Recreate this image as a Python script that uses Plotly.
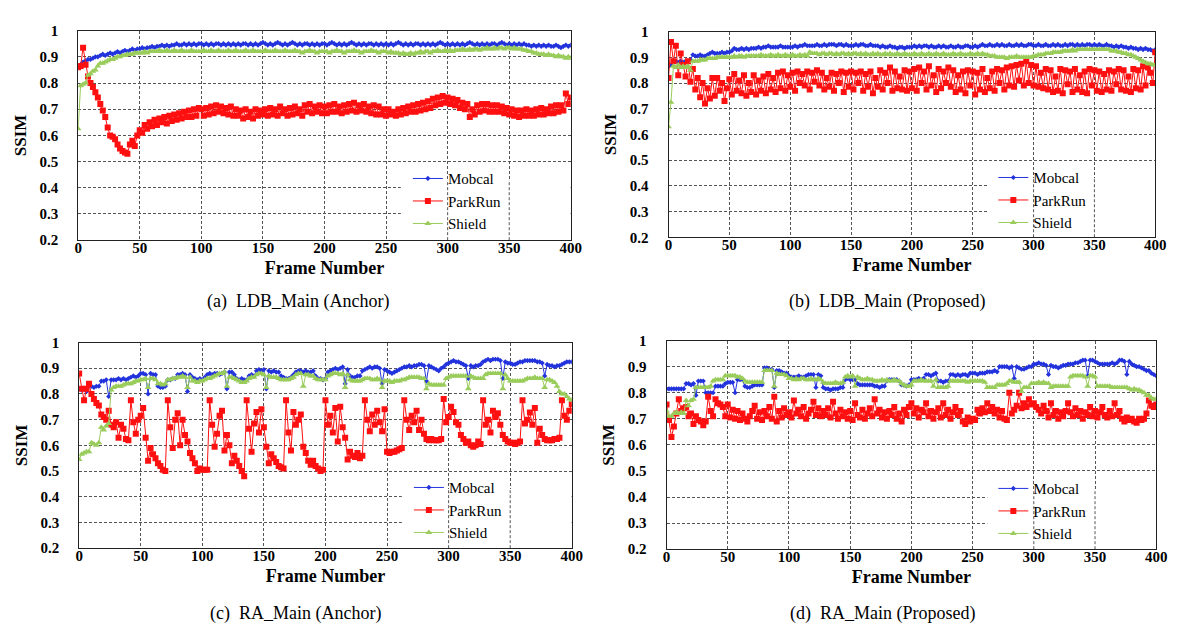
import plotly.graph_objects as go

# ---------------- data (SSIM per frame, sampled every 2 frames: 0,2,...,400) ----------------
FRAME_STEP = 2
series_names = ["Mobcal", "ParkRun", "Shield"]
captions = ["(a)\u00a0 LDB_Main (Anchor)", "(b)\u00a0 LDB_Main (Proposed)",
            "(c)\u00a0 RA_Main (Anchor)", "(d)\u00a0 RA_Main (Proposed)"]
x_ticks = [0, 50, 100, 150, 200, 250, 300, 350, 400]
y_ticks = [0.2, 0.3, 0.4, 0.5, 0.6, 0.7, 0.8, 0.9, 1.0]
y_tick_text = ["0.2", "0.3", "0.4", "0.5", "0.6", "0.7", "0.8", "0.9", "1"]

# (a) LDB_Main Anchor
a_mobcal = [
    0.86, 0.87, 0.88, 0.885, 0.89, 0.89, 0.895, 0.90, 0.90, 0.905, 0.91, 0.905, 0.91, 0.915, 0.91, 0.915, 0.92, 0.915, 0.92, 0.925, 0.92, 0.925, 0.93, 0.925, 0.93,
    0.93, 0.935, 0.93, 0.935, 0.935, 0.94, 0.935, 0.94, 0.94, 0.945, 0.94, 0.945, 0.94, 0.945, 0.945, 0.95, 0.945, 0.945, 0.95, 0.945, 0.95, 0.945, 0.95, 0.945, 0.95,
    0.95, 0.945, 0.95, 0.945, 0.95, 0.945, 0.95, 0.95, 0.945, 0.95, 0.945, 0.95, 0.945, 0.95, 0.945, 0.95, 0.945, 0.95, 0.95, 0.945, 0.95, 0.945, 0.95, 0.945, 0.95,
    0.955, 0.95, 0.945, 0.95, 0.945, 0.95, 0.955, 0.95, 0.945, 0.95, 0.945, 0.95, 0.955, 0.95, 0.945, 0.95, 0.945, 0.95, 0.95, 0.945, 0.95, 0.945, 0.95, 0.945, 0.95,
    0.95, 0.945, 0.95, 0.955, 0.95, 0.945, 0.95, 0.945, 0.95, 0.945, 0.95, 0.955, 0.95, 0.945, 0.95, 0.945, 0.95, 0.945, 0.95, 0.95, 0.945, 0.95, 0.945, 0.95, 0.945,
    0.95, 0.945, 0.95, 0.945, 0.95, 0.955, 0.95, 0.945, 0.95, 0.945, 0.95, 0.945, 0.95, 0.95, 0.945, 0.95, 0.945, 0.95, 0.945, 0.95, 0.945, 0.95, 0.955, 0.95, 0.945,
    0.95, 0.945, 0.95, 0.945, 0.95, 0.945, 0.95, 0.945, 0.95, 0.955, 0.95, 0.945, 0.95, 0.945, 0.95, 0.945, 0.95, 0.945, 0.95, 0.95, 0.945, 0.95, 0.955, 0.95, 0.945,
    0.95, 0.945, 0.95, 0.945, 0.95, 0.945, 0.95, 0.945, 0.945, 0.94, 0.945, 0.94, 0.945, 0.94, 0.945, 0.94, 0.945, 0.94, 0.94, 0.945, 0.94, 0.935, 0.94, 0.945, 0.94,
    0.945,
]
a_parkrun = [
    0.86, 0.865, 0.935, 0.87, 0.825, 0.80, 0.785, 0.765, 0.745, 0.72, 0.695, 0.67, 0.63, 0.60, 0.595, 0.585, 0.565, 0.55, 0.54, 0.535, 0.53, 0.565, 0.58, 0.56, 0.60,
    0.62, 0.61, 0.64, 0.625, 0.65, 0.635, 0.66, 0.64, 0.665, 0.65, 0.67, 0.645, 0.675, 0.655, 0.68, 0.66, 0.685, 0.665, 0.69, 0.67, 0.695, 0.67, 0.70, 0.675, 0.705,
    0.70, 0.675, 0.705, 0.68, 0.71, 0.685, 0.715, 0.69, 0.71, 0.685, 0.705, 0.68, 0.71, 0.675, 0.70, 0.675, 0.695, 0.665, 0.70, 0.67, 0.69, 0.665, 0.70, 0.675, 0.695,
    0.68, 0.70, 0.675, 0.705, 0.68, 0.70, 0.675, 0.71, 0.685, 0.70, 0.675, 0.705, 0.68, 0.71, 0.685, 0.70, 0.675, 0.715, 0.69, 0.72, 0.685, 0.71, 0.69, 0.715, 0.685,
    0.71, 0.685, 0.715, 0.69, 0.72, 0.69, 0.71, 0.685, 0.715, 0.69, 0.72, 0.695, 0.725, 0.69, 0.715, 0.695, 0.72, 0.69, 0.71, 0.685, 0.715, 0.68, 0.71, 0.68, 0.70,
    0.675, 0.70, 0.68, 0.69, 0.675, 0.70, 0.68, 0.705, 0.685, 0.71, 0.69, 0.715, 0.69, 0.72, 0.695, 0.725, 0.70, 0.73, 0.705, 0.74, 0.715, 0.745, 0.72, 0.75, 0.725,
    0.745, 0.72, 0.74, 0.715, 0.735, 0.705, 0.725, 0.70, 0.72, 0.67, 0.70, 0.68, 0.715, 0.69, 0.72, 0.695, 0.72, 0.69, 0.715, 0.69, 0.715, 0.69, 0.71, 0.685, 0.705,
    0.68, 0.70, 0.675, 0.695, 0.67, 0.695, 0.675, 0.70, 0.675, 0.695, 0.675, 0.70, 0.68, 0.705, 0.68, 0.70, 0.685, 0.71, 0.685, 0.715, 0.69, 0.715, 0.695, 0.76, 0.72,
    0.745,
]
a_shield = [
    0.625, 0.79, 0.795, 0.80, 0.83, 0.835, 0.845, 0.85, 0.865, 0.875, 0.875, 0.88, 0.885, 0.89, 0.89, 0.895, 0.90, 0.90, 0.905, 0.905, 0.91, 0.91, 0.91, 0.915, 0.915,
    0.915, 0.915, 0.92, 0.915, 0.92, 0.92, 0.92, 0.92, 0.925, 0.92, 0.92, 0.925, 0.92, 0.92, 0.925, 0.92, 0.92, 0.925, 0.92, 0.92, 0.92, 0.925, 0.92, 0.92, 0.92,
    0.92, 0.925, 0.92, 0.92, 0.925, 0.92, 0.92, 0.925, 0.92, 0.92, 0.92, 0.925, 0.92, 0.92, 0.925, 0.92, 0.92, 0.92, 0.925, 0.92, 0.92, 0.925, 0.92, 0.92, 0.92,
    0.92, 0.925, 0.92, 0.92, 0.92, 0.925, 0.92, 0.92, 0.92, 0.925, 0.92, 0.92, 0.92, 0.925, 0.92, 0.92, 0.915, 0.92, 0.92, 0.925, 0.92, 0.92, 0.915, 0.92, 0.92,
    0.92, 0.92, 0.915, 0.92, 0.92, 0.925, 0.92, 0.92, 0.915, 0.92, 0.92, 0.92, 0.925, 0.92, 0.92, 0.915, 0.92, 0.92, 0.92, 0.925, 0.92, 0.92, 0.915, 0.92, 0.92,
    0.92, 0.915, 0.92, 0.915, 0.915, 0.915, 0.91, 0.915, 0.91, 0.91, 0.915, 0.91, 0.915, 0.915, 0.92, 0.915, 0.92, 0.92, 0.915, 0.92, 0.92, 0.925, 0.92, 0.92, 0.925,
    0.92, 0.925, 0.92, 0.925, 0.925, 0.925, 0.93, 0.925, 0.925, 0.93, 0.925, 0.93, 0.93, 0.925, 0.93, 0.93, 0.935, 0.93, 0.93, 0.935, 0.93, 0.935, 0.935, 0.93, 0.935,
    0.935, 0.93, 0.935, 0.93, 0.93, 0.93, 0.925, 0.925, 0.92, 0.92, 0.915, 0.915, 0.91, 0.91, 0.91, 0.905, 0.91, 0.905, 0.905, 0.90, 0.905, 0.90, 0.90, 0.895, 0.90,
    0.895,
]

# (b) LDB_Main Proposed
b_mobcal = [
    0.865, 0.87, 0.88, 0.885, 0.88, 0.885, 0.88, 0.885, 0.885, 0.89, 0.91, 0.905, 0.905, 0.91, 0.905, 0.905, 0.91, 0.915, 0.92, 0.915, 0.915, 0.915, 0.92, 0.915, 0.92,
    0.92, 0.925, 0.935, 0.93, 0.93, 0.935, 0.93, 0.935, 0.93, 0.935, 0.935, 0.935, 0.94, 0.935, 0.94, 0.94, 0.945, 0.94, 0.94, 0.94, 0.94, 0.945, 0.94, 0.94, 0.94,
    0.94, 0.94, 0.945, 0.94, 0.945, 0.945, 0.95, 0.945, 0.945, 0.945, 0.945, 0.95, 0.945, 0.945, 0.95, 0.945, 0.95, 0.95, 0.95, 0.945, 0.95, 0.95, 0.945, 0.95, 0.945,
    0.945, 0.945, 0.95, 0.945, 0.95, 0.95, 0.945, 0.945, 0.95, 0.945, 0.945, 0.945, 0.94, 0.945, 0.94, 0.94, 0.945, 0.94, 0.94, 0.935, 0.94, 0.94, 0.935, 0.94, 0.94,
    0.94, 0.945, 0.94, 0.945, 0.94, 0.945, 0.945, 0.94, 0.945, 0.94, 0.94, 0.945, 0.94, 0.945, 0.94, 0.94, 0.945, 0.94, 0.94, 0.945, 0.94, 0.94, 0.945, 0.945, 0.94,
    0.94, 0.945, 0.94, 0.945, 0.95, 0.945, 0.945, 0.95, 0.945, 0.945, 0.95, 0.945, 0.95, 0.945, 0.945, 0.95, 0.945, 0.945, 0.95, 0.945, 0.95, 0.945, 0.945, 0.95, 0.95,
    0.945, 0.945, 0.95, 0.945, 0.945, 0.95, 0.945, 0.945, 0.95, 0.945, 0.95, 0.945, 0.945, 0.95, 0.945, 0.95, 0.95, 0.945, 0.95, 0.945, 0.95, 0.945, 0.95, 0.95, 0.945,
    0.95, 0.945, 0.95, 0.945, 0.945, 0.95, 0.945, 0.945, 0.94, 0.945, 0.94, 0.945, 0.94, 0.94, 0.935, 0.94, 0.935, 0.935, 0.93, 0.935, 0.93, 0.935, 0.93, 0.93, 0.925,
    0.93,
]
b_parkrun = [
    0.82, 0.96, 0.885, 0.945, 0.83, 0.915, 0.87, 0.825, 0.885, 0.805, 0.855, 0.775, 0.82, 0.745, 0.80, 0.72, 0.78, 0.74, 0.82, 0.75, 0.82, 0.77, 0.80, 0.73, 0.78,
    0.815, 0.755, 0.835, 0.77, 0.81, 0.76, 0.83, 0.75, 0.80, 0.765, 0.83, 0.755, 0.81, 0.77, 0.825, 0.76, 0.835, 0.775, 0.82, 0.765, 0.84, 0.78, 0.845, 0.77, 0.83,
    0.785, 0.84, 0.77, 0.845, 0.80, 0.835, 0.79, 0.845, 0.775, 0.84, 0.805, 0.85, 0.79, 0.84, 0.775, 0.82, 0.785, 0.84, 0.77, 0.835, 0.80, 0.845, 0.765, 0.84, 0.785,
    0.845, 0.775, 0.84, 0.80, 0.845, 0.77, 0.835, 0.785, 0.845, 0.76, 0.82, 0.785, 0.85, 0.775, 0.84, 0.80, 0.86, 0.77, 0.845, 0.78, 0.825, 0.775, 0.85, 0.77, 0.845,
    0.78, 0.855, 0.77, 0.86, 0.80, 0.845, 0.775, 0.865, 0.79, 0.83, 0.765, 0.855, 0.78, 0.845, 0.80, 0.86, 0.785, 0.85, 0.765, 0.83, 0.775, 0.845, 0.76, 0.85, 0.79,
    0.845, 0.755, 0.84, 0.775, 0.855, 0.765, 0.82, 0.78, 0.845, 0.77, 0.855, 0.80, 0.85, 0.775, 0.86, 0.79, 0.865, 0.785, 0.87, 0.81, 0.875, 0.79, 0.885, 0.80, 0.87,
    0.79, 0.865, 0.785, 0.84, 0.78, 0.855, 0.775, 0.85, 0.765, 0.825, 0.77, 0.855, 0.76, 0.85, 0.795, 0.845, 0.765, 0.855, 0.775, 0.83, 0.765, 0.845, 0.76, 0.855, 0.79,
    0.85, 0.77, 0.845, 0.765, 0.835, 0.775, 0.85, 0.77, 0.845, 0.795, 0.855, 0.775, 0.85, 0.77, 0.825, 0.765, 0.855, 0.78, 0.85, 0.775, 0.865, 0.79, 0.86, 0.84, 0.80,
    0.92,
]
b_shield = [
    0.63, 0.725, 0.865, 0.86, 0.87, 0.86, 0.865, 0.86, 0.865, 0.85, 0.885, 0.885, 0.885, 0.89, 0.89, 0.89, 0.895, 0.895, 0.895, 0.895, 0.90, 0.90, 0.90, 0.90, 0.90,
    0.90, 0.90, 0.905, 0.90, 0.905, 0.905, 0.90, 0.905, 0.905, 0.905, 0.905, 0.905, 0.905, 0.91, 0.905, 0.905, 0.905, 0.91, 0.905, 0.905, 0.91, 0.905, 0.905, 0.91, 0.905,
    0.905, 0.91, 0.905, 0.905, 0.91, 0.905, 0.91, 0.905, 0.92, 0.915, 0.915, 0.915, 0.91, 0.915, 0.915, 0.91, 0.915, 0.915, 0.91, 0.915, 0.91, 0.915, 0.915, 0.91, 0.915,
    0.91, 0.915, 0.915, 0.91, 0.915, 0.91, 0.915, 0.91, 0.91, 0.915, 0.91, 0.915, 0.91, 0.91, 0.915, 0.91, 0.915, 0.91, 0.91, 0.915, 0.91, 0.91, 0.915, 0.91, 0.91,
    0.91, 0.915, 0.91, 0.91, 0.915, 0.91, 0.91, 0.915, 0.91, 0.91, 0.915, 0.91, 0.91, 0.915, 0.91, 0.91, 0.91, 0.915, 0.91, 0.91, 0.915, 0.91, 0.91, 0.91, 0.915,
    0.91, 0.91, 0.915, 0.91, 0.915, 0.91, 0.91, 0.905, 0.905, 0.905, 0.90, 0.90, 0.90, 0.90, 0.895, 0.90, 0.90, 0.90, 0.905, 0.90, 0.90, 0.90, 0.90, 0.90, 0.90,
    0.905, 0.905, 0.91, 0.91, 0.91, 0.915, 0.915, 0.915, 0.92, 0.92, 0.92, 0.92, 0.925, 0.925, 0.925, 0.925, 0.93, 0.925, 0.93, 0.93, 0.93, 0.93, 0.93, 0.93, 0.93,
    0.93, 0.93, 0.93, 0.93, 0.93, 0.93, 0.93, 0.925, 0.925, 0.925, 0.92, 0.92, 0.915, 0.915, 0.91, 0.91, 0.905, 0.90, 0.895, 0.89, 0.885, 0.88, 0.875, 0.875, 0.87,
    0.87,
]

# (c) RA_Main Anchor
c_mobcal = [
    0.82, 0.815, 0.82, 0.81, 0.83, 0.83, 0.825, 0.83, 0.83, 0.85, 0.85, 0.855, 0.79, 0.855, 0.855, 0.855, 0.86, 0.855, 0.86, 0.855, 0.86, 0.865, 0.87, 0.865, 0.87,
    0.88, 0.88, 0.875, 0.80, 0.88, 0.875, 0.875, 0.83, 0.825, 0.825, 0.83, 0.855, 0.855, 0.86, 0.86, 0.875, 0.875, 0.88, 0.875, 0.81, 0.875, 0.865, 0.86, 0.855, 0.86,
    0.855, 0.865, 0.875, 0.88, 0.875, 0.88, 0.88, 0.875, 0.88, 0.885, 0.82, 0.885, 0.885, 0.875, 0.86, 0.855, 0.86, 0.855, 0.855, 0.87, 0.875, 0.87, 0.89, 0.895, 0.89,
    0.895, 0.82, 0.89, 0.885, 0.89, 0.885, 0.885, 0.87, 0.865, 0.86, 0.86, 0.865, 0.875, 0.885, 0.89, 0.89, 0.885, 0.89, 0.885, 0.885, 0.89, 0.87, 0.86, 0.86, 0.855,
    0.86, 0.885, 0.89, 0.895, 0.90, 0.895, 0.90, 0.905, 0.84, 0.895, 0.87, 0.865, 0.865, 0.87, 0.87, 0.89, 0.895, 0.90, 0.905, 0.90, 0.905, 0.905, 0.90, 0.84, 0.895,
    0.89, 0.885, 0.88, 0.885, 0.89, 0.895, 0.90, 0.905, 0.905, 0.91, 0.905, 0.91, 0.91, 0.915, 0.915, 0.91, 0.85, 0.91, 0.905, 0.90, 0.895, 0.89, 0.90, 0.905, 0.915,
    0.92, 0.925, 0.93, 0.925, 0.925, 0.92, 0.915, 0.91, 0.86, 0.91, 0.905, 0.91, 0.91, 0.915, 0.925, 0.93, 0.935, 0.93, 0.935, 0.935, 0.935, 0.93, 0.86, 0.925, 0.92,
    0.92, 0.915, 0.915, 0.92, 0.925, 0.925, 0.93, 0.93, 0.93, 0.93, 0.93, 0.925, 0.925, 0.92, 0.87, 0.915, 0.91, 0.91, 0.905, 0.91, 0.91, 0.915, 0.92, 0.925, 0.925,
    0.925,
]
c_parkrun = [
    0.88, 0.82, 0.775, 0.82, 0.84, 0.80, 0.78, 0.765, 0.755, 0.72, 0.71, 0.70, 0.735, 0.68, 0.67, 0.69, 0.63, 0.68, 0.665, 0.625, 0.62, 0.775, 0.69, 0.645, 0.70,
    0.715, 0.745, 0.63, 0.54, 0.59, 0.565, 0.55, 0.53, 0.52, 0.505, 0.50, 0.775, 0.67, 0.59, 0.70, 0.725, 0.60, 0.70, 0.64, 0.615, 0.57, 0.55, 0.53, 0.50, 0.51,
    0.505, 0.505, 0.505, 0.775, 0.68, 0.595, 0.645, 0.715, 0.735, 0.58, 0.64, 0.60, 0.53, 0.56, 0.54, 0.52, 0.50, 0.48, 0.775, 0.665, 0.575, 0.685, 0.73, 0.65, 0.74,
    0.67, 0.595, 0.53, 0.565, 0.55, 0.535, 0.52, 0.515, 0.51, 0.775, 0.65, 0.58, 0.73, 0.68, 0.70, 0.72, 0.595, 0.57, 0.54, 0.525, 0.54, 0.52, 0.51, 0.50, 0.505,
    0.775, 0.68, 0.715, 0.65, 0.745, 0.615, 0.75, 0.67, 0.63, 0.545, 0.575, 0.56, 0.555, 0.57, 0.55, 0.56, 0.775, 0.70, 0.655, 0.72, 0.68, 0.735, 0.69, 0.655, 0.74,
    0.575, 0.57, 0.575, 0.575, 0.58, 0.585, 0.59, 0.775, 0.70, 0.66, 0.715, 0.69, 0.735, 0.66, 0.70, 0.645, 0.625, 0.62, 0.625, 0.62, 0.62, 0.62, 0.625, 0.78, 0.69,
    0.71, 0.75, 0.73, 0.69, 0.68, 0.64, 0.625, 0.61, 0.615, 0.60, 0.595, 0.60, 0.615, 0.605, 0.775, 0.68, 0.70, 0.65, 0.735, 0.71, 0.725, 0.68, 0.64, 0.625, 0.615,
    0.61, 0.61, 0.605, 0.61, 0.615, 0.775, 0.685, 0.70, 0.728, 0.68, 0.745, 0.61, 0.665, 0.64, 0.625, 0.62, 0.62, 0.62, 0.625, 0.625, 0.63, 0.775, 0.715, 0.70, 0.735,
    0.76,
]
c_shield = [
    0.545, 0.565, 0.57, 0.575, 0.575, 0.61, 0.605, 0.60, 0.61, 0.67, 0.66, 0.675, 0.685, 0.815, 0.825, 0.83, 0.83, 0.83, 0.835, 0.84, 0.84, 0.84, 0.845, 0.85, 0.85,
    0.855, 0.855, 0.86, 0.825, 0.86, 0.86, 0.855, 0.84, 0.84, 0.835, 0.84, 0.855, 0.855, 0.86, 0.86, 0.865, 0.865, 0.87, 0.865, 0.825, 0.865, 0.85, 0.85, 0.845, 0.85,
    0.85, 0.855, 0.86, 0.86, 0.865, 0.87, 0.875, 0.88, 0.88, 0.885, 0.83, 0.865, 0.865, 0.86, 0.855, 0.85, 0.845, 0.845, 0.85, 0.86, 0.865, 0.865, 0.875, 0.88, 0.88,
    0.875, 0.825, 0.87, 0.865, 0.865, 0.865, 0.86, 0.855, 0.855, 0.855, 0.855, 0.86, 0.865, 0.875, 0.88, 0.88, 0.83, 0.875, 0.875, 0.87, 0.87, 0.86, 0.855, 0.855, 0.855,
    0.855, 0.87, 0.875, 0.88, 0.88, 0.88, 0.875, 0.88, 0.825, 0.875, 0.855, 0.85, 0.85, 0.85, 0.85, 0.855, 0.86, 0.86, 0.86, 0.855, 0.855, 0.86, 0.855, 0.825, 0.85,
    0.85, 0.85, 0.845, 0.85, 0.85, 0.85, 0.855, 0.855, 0.86, 0.865, 0.865, 0.865, 0.865, 0.865, 0.86, 0.86, 0.82, 0.84, 0.835, 0.835, 0.835, 0.835, 0.835, 0.835, 0.86,
    0.865, 0.87, 0.87, 0.87, 0.87, 0.87, 0.87, 0.87, 0.82, 0.87, 0.865, 0.86, 0.86, 0.86, 0.86, 0.875, 0.88, 0.88, 0.88, 0.88, 0.88, 0.88, 0.82, 0.875, 0.86,
    0.85, 0.85, 0.85, 0.85, 0.85, 0.85, 0.855, 0.86, 0.86, 0.86, 0.865, 0.86, 0.86, 0.86, 0.825, 0.855, 0.855, 0.85, 0.845, 0.83, 0.81, 0.80, 0.80, 0.79, 0.78,
    0.775,
]

# (d) RA_Main Proposed
d_mobcal = [
    0.815, 0.815, 0.815, 0.815, 0.815, 0.815, 0.815, 0.815, 0.835, 0.835, 0.83, 0.835, 0.79, 0.845, 0.845, 0.845, 0.80, 0.80, 0.80, 0.80, 0.825, 0.825, 0.825, 0.825, 0.835,
    0.84, 0.84, 0.84, 0.80, 0.85, 0.85, 0.85, 0.825, 0.82, 0.82, 0.825, 0.83, 0.83, 0.83, 0.83, 0.895, 0.895, 0.89, 0.89, 0.82, 0.885, 0.885, 0.88, 0.875, 0.875,
    0.865, 0.86, 0.86, 0.86, 0.865, 0.86, 0.86, 0.865, 0.87, 0.87, 0.87, 0.82, 0.87, 0.865, 0.82, 0.815, 0.815, 0.81, 0.815, 0.815, 0.815, 0.82, 0.82, 0.85, 0.855,
    0.85, 0.85, 0.85, 0.835, 0.83, 0.83, 0.83, 0.83, 0.83, 0.83, 0.825, 0.825, 0.82, 0.825, 0.825, 0.845, 0.85, 0.85, 0.85, 0.85, 0.845, 0.83, 0.83, 0.825, 0.83,
    0.85, 0.85, 0.85, 0.855, 0.85, 0.855, 0.87, 0.87, 0.865, 0.87, 0.875, 0.845, 0.845, 0.84, 0.845, 0.845, 0.87, 0.87, 0.865, 0.87, 0.865, 0.87, 0.87, 0.865, 0.875,
    0.875, 0.875, 0.87, 0.875, 0.875, 0.875, 0.88, 0.88, 0.88, 0.885, 0.88, 0.90, 0.90, 0.90, 0.90, 0.895, 0.90, 0.855, 0.90, 0.895, 0.89, 0.89, 0.895, 0.90, 0.90,
    0.91, 0.91, 0.915, 0.91, 0.91, 0.905, 0.87, 0.905, 0.90, 0.90, 0.895, 0.90, 0.905, 0.905, 0.91, 0.91, 0.91, 0.915, 0.915, 0.92, 0.925, 0.925, 0.865, 0.925, 0.925,
    0.92, 0.915, 0.91, 0.91, 0.91, 0.91, 0.91, 0.915, 0.91, 0.915, 0.925, 0.925, 0.92, 0.87, 0.92, 0.91, 0.905, 0.90, 0.90, 0.895, 0.89, 0.885, 0.885, 0.875, 0.87,
    0.865,
]
d_parkrun = [
    0.755, 0.695, 0.63, 0.67, 0.72, 0.775, 0.73, 0.74, 0.745, 0.71, 0.72, 0.68, 0.71, 0.695, 0.69, 0.675, 0.69, 0.785, 0.73, 0.71, 0.775, 0.76, 0.755, 0.745, 0.71,
    0.755, 0.705, 0.735, 0.70, 0.73, 0.695, 0.72, 0.70, 0.69, 0.71, 0.73, 0.75, 0.70, 0.725, 0.695, 0.73, 0.71, 0.745, 0.70, 0.785, 0.69, 0.73, 0.705, 0.74, 0.715,
    0.725, 0.705, 0.77, 0.72, 0.735, 0.71, 0.745, 0.70, 0.72, 0.735, 0.765, 0.715, 0.74, 0.71, 0.73, 0.715, 0.74, 0.705, 0.765, 0.72, 0.70, 0.735, 0.71, 0.725, 0.70,
    0.73, 0.695, 0.76, 0.715, 0.705, 0.735, 0.70, 0.72, 0.74, 0.71, 0.775, 0.72, 0.735, 0.705, 0.725, 0.70, 0.73, 0.715, 0.745, 0.70, 0.72, 0.69, 0.735, 0.715, 0.745,
    0.76, 0.72, 0.74, 0.705, 0.735, 0.725, 0.76, 0.71, 0.73, 0.70, 0.725, 0.74, 0.705, 0.76, 0.715, 0.735, 0.70, 0.725, 0.745, 0.715, 0.73, 0.69, 0.68, 0.705, 0.69,
    0.70, 0.695, 0.735, 0.72, 0.74, 0.725, 0.76, 0.73, 0.745, 0.72, 0.735, 0.705, 0.73, 0.70, 0.695, 0.80, 0.72, 0.735, 0.75, 0.80, 0.74, 0.76, 0.745, 0.775, 0.755,
    0.76, 0.745, 0.735, 0.72, 0.75, 0.73, 0.705, 0.76, 0.715, 0.73, 0.70, 0.725, 0.71, 0.73, 0.76, 0.725, 0.71, 0.74, 0.715, 0.73, 0.70, 0.725, 0.715, 0.745, 0.71,
    0.73, 0.705, 0.725, 0.745, 0.715, 0.705, 0.73, 0.71, 0.76, 0.715, 0.73, 0.70, 0.69, 0.705, 0.695, 0.70, 0.69, 0.685, 0.70, 0.695, 0.70, 0.72, 0.77, 0.75, 0.745,
    0.755,
]
d_shield = [
    0.73, 0.71, 0.71, 0.72, 0.725, 0.72, 0.725, 0.72, 0.77, 0.75, 0.77, 0.775, 0.82, 0.82, 0.82, 0.82, 0.82, 0.82, 0.825, 0.845, 0.85, 0.85, 0.85, 0.85, 0.865,
    0.865, 0.865, 0.865, 0.865, 0.86, 0.86, 0.855, 0.845, 0.84, 0.84, 0.84, 0.84, 0.84, 0.84, 0.84, 0.885, 0.885, 0.885, 0.885, 0.825, 0.875, 0.87, 0.87, 0.87, 0.865,
    0.855, 0.855, 0.85, 0.855, 0.85, 0.855, 0.855, 0.85, 0.85, 0.855, 0.85, 0.85, 0.855, 0.85, 0.84, 0.835, 0.835, 0.835, 0.835, 0.84, 0.835, 0.835, 0.84, 0.86, 0.865,
    0.86, 0.865, 0.825, 0.86, 0.855, 0.85, 0.85, 0.855, 0.85, 0.85, 0.845, 0.845, 0.845, 0.85, 0.845, 0.85, 0.845, 0.845, 0.85, 0.845, 0.845, 0.835, 0.83, 0.825, 0.825,
    0.83, 0.845, 0.845, 0.845, 0.85, 0.845, 0.845, 0.845, 0.845, 0.825, 0.85, 0.82, 0.82, 0.82, 0.82, 0.825, 0.845, 0.845, 0.845, 0.845, 0.845, 0.845, 0.845, 0.84, 0.845,
    0.845, 0.845, 0.845, 0.845, 0.845, 0.84, 0.82, 0.82, 0.82, 0.82, 0.83, 0.83, 0.83, 0.83, 0.835, 0.845, 0.845, 0.84, 0.84, 0.84, 0.805, 0.82, 0.82, 0.82, 0.835,
    0.835, 0.835, 0.84, 0.835, 0.84, 0.835, 0.835, 0.82, 0.825, 0.825, 0.825, 0.825, 0.825, 0.825, 0.825, 0.86, 0.865, 0.865, 0.865, 0.865, 0.865, 0.86, 0.825, 0.865, 0.865,
    0.86, 0.825, 0.825, 0.825, 0.825, 0.825, 0.825, 0.82, 0.82, 0.82, 0.82, 0.82, 0.82, 0.82, 0.815, 0.81, 0.815, 0.81, 0.81, 0.805, 0.80, 0.79, 0.79, 0.78, 0.775,
    0.775,
]

panels = [
    (a_mobcal, a_parkrun, a_shield),
    (b_mobcal, b_parkrun, b_shield),
    (c_mobcal, c_parkrun, c_shield),
    (d_mobcal, d_parkrun, d_shield),
]

# ---------------- styling / layout ----------------
W, H = 1177, 633
SERIF = "Liberation Serif"
colors = ["#2233dd", "#ff1010", "#99cc5a"]
symbols = ["diamond", "square", "triangle-up"]
msizes = [4, 6, 6]

# plot areas in pixels: (left, right, top, bottom)
areas = [(67, 566, 15, 230), (665, 1158, 16, 227), (68, 567, 335, 546), (663, 1159, 333, 547)]
legend_pos = [(401, 150), (994, 149), (402, 467), (994, 468)]
cap_pos = [(290, 293), (886, 293), (287, 613), (882, 613)]
LEGEND_BOX_X0 = 262     # frame where the legend's blank area begins
LEGEND_BOX_Y1 = 0.43    # SSIM level where the legend's blank area ends

fig = go.Figure()
for p, series in enumerate(panels):
    sfx = "" if p == 0 else str(p + 1)
    for s, vals in enumerate(series):
        frames = [i * FRAME_STEP for i in range(len(vals))]
        fig.add_trace(go.Scatter(
            x=frames, y=vals, mode="lines+markers", name=series_names[s],
            line=dict(color=colors[s], width=1),
            marker=dict(symbol=symbols[s], size=msizes[s], color=colors[s], line=dict(width=0)),
            xaxis="x" + sfx, yaxis="y" + sfx, legend="legend" + sfx,
        ))

GRID_COLOR = "#555555"
GRID_DASH = "3px,2px"
layout = dict(
    width=W, height=H, margin=dict(l=0, r=0, t=0, b=0),
    paper_bgcolor="white", plot_bgcolor="white",
    font=dict(family=SERIF, color="black"),
    annotations=[], shapes=[], showlegend=True,
)
grid = dict(showgrid=True, gridcolor=GRID_COLOR, gridwidth=1, griddash=GRID_DASH,
            showline=True, linecolor="#222222", linewidth=1, mirror=True,
            ticks="", zeroline=False)
for p in range(4):
    sfx = "" if p == 0 else str(p + 1)
    l, r, t, b = areas[p]
    layout["xaxis" + sfx] = dict(
        domain=[l / W, r / W], anchor="y" + sfx, range=[0, 400],
        tickvals=x_ticks, ticklabelstandoff=-6,
        tickfont=dict(family=SERIF, size=15, color="black", weight="bold"),
        title=dict(text="<b>Frame Number</b>", font=dict(family=SERIF, size=18), standoff=6),
        **grid)
    layout["yaxis" + sfx] = dict(
        domain=[1 - b / H, 1 - t / H], anchor="x" + sfx, range=[0.2, 1.0],
        tickvals=y_ticks, ticktext=y_tick_text, ticklabelstandoff=16,
        tickfont=dict(family=SERIF, size=15, color="black", weight="bold"),
        title=dict(text="<b>SSIM</b>", font=dict(family=SERIF, size=17), standoff=8),
        **grid)
    lx, ly = legend_pos[p]
    layout["legend" + sfx] = dict(
        x=lx / W, y=1 - ly / H, xanchor="left", yanchor="top",
        bgcolor="rgba(0,0,0,0)", borderwidth=0, itemwidth=30,
        font=dict(family=SERIF, size=15, color="black"),
    )
    # blank (white) area behind the legend hides the horizontal grid lines there
    layout["shapes"].append(dict(
        type="rect", xref="x" + sfx, yref="y" + sfx, layer="between",
        x0=LEGEND_BOX_X0, x1=400, y0=0.2, y1=LEGEND_BOX_Y1,
        fillcolor="white", line=dict(width=0)))
    for gx in x_ticks:
        if LEGEND_BOX_X0 < gx < 400:
            layout["shapes"].append(dict(
                type="line", xref="x" + sfx, yref="y" + sfx, layer="between",
                x0=gx, x1=gx, y0=0.2, y1=LEGEND_BOX_Y1,
                line=dict(color=GRID_COLOR, width=1, dash=GRID_DASH)))
    cx, cy = cap_pos[p]
    layout["annotations"].append(dict(
        text=captions[p], x=cx / W, y=1 - cy / H, xref="paper", yref="paper",
        xanchor="center", yanchor="middle", showarrow=False,
        font=dict(family=SERIF, size=18, color="black")))

fig.update_layout(**layout)
fig.write_html("out.html")
